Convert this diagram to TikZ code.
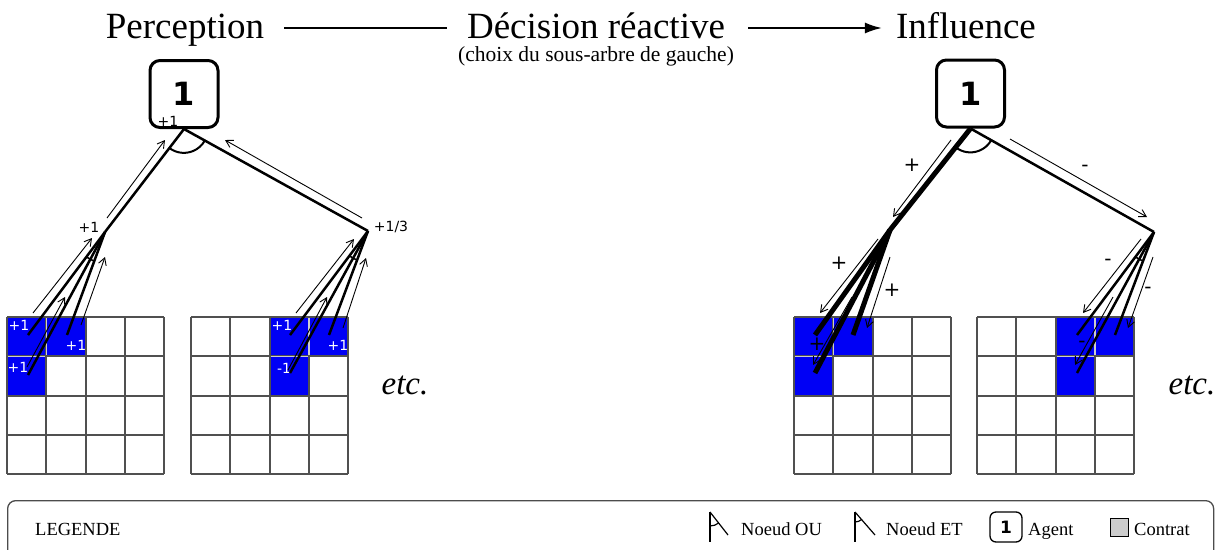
\documentclass[tikz,border=0pt]{standalone}
\usepackage{fontspec}
\setmainfont{Liberation Serif}
\newfontfamily\labelfont{DejaVu Sans}
\usetikzlibrary{arrows.meta,calc}

\definecolor{cellblue}{RGB}{0,0,245}
\definecolor{gridgray}{RGB}{80,80,80}
\definecolor{seamgray}{RGB}{205,205,205}

% 4x4 board whose upper-left corner is at x=#1, y=317;
% blue cells: columns #2 and #2+1 of the first row, column #2 of the second row
\newcommand\cellgrid[2]{%
  \fill[cellblue] ({#1+#2*39.3},317) rectangle ++(78.6,39.3);
  \fill[cellblue] ({#1+#2*39.3},356.3) rectangle ++(39.3,39.3);
  \foreach \i in {0,...,4}{%
    \draw[gridline] ({#1+\i*39.3},317) -- ++(0,157.2);
    \draw[gridline] (#1,{317+\i*39.3}) -- ++(157.2,0);
  }%
  \draw[seam] ({#1+(#2+1)*39.3},318) -- ++(0,37.3);
  \draw[seam] ({#1+#2*39.3+1},356.3) -- ++(37.3,0);
}

\begin{document}
\begin{tikzpicture}[x=1pt,y=-1pt,
  title/.style={font=\fontsize{37}{40}\selectfont, inner sep=0pt, anchor=base},
  subtitle/.style={font=\fontsize{21.5}{23}\selectfont, inner sep=0pt, anchor=base},
  titleline/.style={line width=2pt},
  agent/.style={draw, line width=3pt, rounded corners=10pt, minimum width=68pt,
    minimum height=67pt, inner sep=0pt, font=\labelfont\bfseries\fontsize{32}{32}\selectfont},
  branch/.style={line width=2.5pt},
  chosen/.style={line width=5pt},
  andarc/.style={line width=2pt},
  flow/.style={line width=0.9pt, -{Straight Barb[length=7pt,width=8pt,line width=0.9pt]}},
  gridline/.style={draw=gridgray, line width=1.8pt},
  seam/.style={draw=seamgray, line width=1.6pt},
  val/.style={font=\labelfont\fontsize{14}{14}\selectfont, inner sep=0pt},
  cellval/.style={val, text=white},
  sign/.style={font=\labelfont\fontsize{20}{20}\selectfont, inner sep=0pt},
  etc/.style={font=\itshape\fontsize{33}{36}\selectfont, inner sep=0pt, anchor=base},
  legtext/.style={font=\fontsize{18.5}{20}\selectfont, inner sep=0pt, anchor=base west},
  legsym/.style={line width=1.2pt},
]
\useasboundingbox (0,0) rectangle (1220,549);

% ---------- headings ----------
\node[title] (perc) at (185,38) {Perception};
\node[title] (dec) at (596,38) {Décision réactive};
\node[title] (infl) at (966,38) {Influence};
\node[subtitle] (sub) at (596,61) {(choix du sous-arbre de gauche)};
\draw[titleline] ($(perc.base east)+(20,-10)$) -- ($(dec.base west)+(-20,-10)$);
\draw[titleline, -{Latex[length=17pt,width=11pt]}]
  ($(dec.base east)+(23,-10)$) -- ($(infl.base west)+(-14,-10)$);

% ---------- boards ----------
\cellgrid{7}{0}
\cellgrid{191}{2}
\cellgrid{794}{0}
\cellgrid{977}{2}

\node[cellval] (v11) at (19,325) {+1};
\node[cellval] (v12) at (76,345) {+1};
\node[cellval] (v13) at (18,367) {+1};
\node[cellval] (v21) at (282,325) {+1};
\node[cellval] (v22) at (338,345) {+1};
\node[cellval] (v23) at (284,368) {-1};

% ---------- perception tree ----------
\node[agent] (ag1) at (184,94) {1};
\coordinate (L1) at (105,232);
\coordinate (M1) at (368,231);
\draw[branch] (ag1.south) -- (L1);
\draw[branch] (ag1.south) -- (M1);
\draw[andarc] ($(ag1.south)!24pt!(L1)$) arc[start angle=233, end angle=331, radius=24pt];

\coordinate (pa1) at (107,218); \coordinate (pb1) at (165,140);
\coordinate (pa2) at (362,218); \coordinate (pb2) at (225,140);
\draw[flow] (pa1) -- (pb1);
\draw[flow] (pa2) -- (pb2);

\node[val] (r1) at (168,121) {+1};
\node[val] (l1v) at (89,227) {+1};
\node[val] (m1v) at (391,227) {+1/3};

% left sub-tree
\coordinate (c11) at (28,335); \coordinate (c12) at (67,335); \coordinate (c13) at (28,375);
\draw[branch] (L1) -- (c11);
\draw[branch] (L1) -- (c12);
\draw[branch] (L1) -- (c13);
\draw[line width=1.6pt] ($(L1)!31pt!(c11)$) arc[start angle=233, end angle=250, radius=31pt];
\coordinate (qa1) at (33,313); \coordinate (qb1) at (92,238);
\coordinate (qa2) at (27,367); \coordinate (qb2) at (65,297);
\coordinate (qa3) at (81,325); \coordinate (qb3) at (105,257);
\draw[flow] (qa1) -- (qb1);
\draw[flow] (qa2) -- (qb2);
\draw[flow] (qa3) -- (qb3);

% right sub-tree
\coordinate (c21) at (290,335); \coordinate (c22) at (329,335); \coordinate (c23) at (290,373);
\draw[branch] (M1) -- (c21);
\draw[branch] (M1) -- (c22);
\draw[branch] (M1) -- (c23);
\draw[line width=1.6pt] ($(M1)!31pt!(c21)$) arc[start angle=233, end angle=249, radius=31pt];
\coordinate (sa1) at (296,313); \coordinate (sb1) at (354,239);
\coordinate (sa2) at (288,370); \coordinate (sb2) at (327,297);
\coordinate (sa3) at (343,328); \coordinate (sb3) at (366,258);
\draw[flow] (sa1) -- (sb1);
\draw[flow] (sa2) -- (sb2);
\draw[flow] (sa3) -- (sb3);

\node[etc] (etc1) at (405,394) {etc.};

% ---------- influence tree ----------
\node[agent] (ag2) at (970.5,93.5) {1};
\coordinate (L2) at (890,230);
\coordinate (M2) at (1154,232);
\draw[chosen] (ag2.south) -- (L2);
\draw[branch] (ag2.south) -- (M2);
\draw[andarc] ($(ag2.south)!24pt!(L2)$) arc[start angle=232, end angle=330, radius=24pt];

\coordinate (da1) at (951,140); \coordinate (db1) at (893,217);
\coordinate (da2) at (1010,139); \coordinate (db2) at (1147,217);
\draw[flow] (da1) -- (db1);
\draw[flow] (da2) -- (db2);
\node[sign] (s1) at (912,165) {+};
\node[sign] (s2) at (1085,168) {-};

% chosen sub-tree
\coordinate (c31) at (815,335); \coordinate (c32) at (853,335); \coordinate (c33) at (815,373);
\draw[chosen] (L2) -- (c31);
\draw[chosen] (L2) -- (c32);
\draw[chosen] (L2) -- (c33);
\coordinate (ea1) at (878,239); \coordinate (eb1) at (820,313);
\coordinate (ea2) at (852,297); \coordinate (eb2) at (813,365);
\coordinate (ea3) at (890,257); \coordinate (eb3) at (867,328);
\draw[flow] (ea1) -- (eb1);
\draw[flow] (ea2) -- (eb2);
\draw[flow] (ea3) -- (eb3);
\node[sign] (s3) at (839,263) {+};
\node[sign] (s4) at (892,290) {+};
\node[sign] (s5) at (817,344) {+};

% other sub-tree
\coordinate (c41) at (1077,335); \coordinate (c42) at (1115,335); \coordinate (c43) at (1077,373);
\draw[branch] (M2) -- (c41);
\draw[branch] (M2) -- (c42);
\draw[branch] (M2) -- (c43);
\draw[line width=1.6pt] ($(M2)!31pt!(c41)$) arc[start angle=233, end angle=249, radius=31pt];
\coordinate (fa1) at (1141,239); \coordinate (fb1) at (1083,313);
\coordinate (fa2) at (1113,297); \coordinate (fb2) at (1075,365);
\coordinate (fa3) at (1153,257); \coordinate (fb3) at (1128,328);
\draw[flow] (fa1) -- (fb1);
\draw[flow] (fa2) -- (fb2);
\draw[flow] (fa3) -- (fb3);
\node[sign] (s6) at (1108,262) {-};
\node[sign] (s7) at (1148,290) {-};
\node[sign] (s8) at (1082,344) {-};

\node[etc] (etc2) at (1192,394) {etc.};

% ---------- legend ----------
\node[draw=gray!60!black, line width=1.3pt, rounded corners=8pt, anchor=north west,
  minimum width=1206pt, minimum height=80pt, inner sep=0pt] (legend) at (7,500) {};
\node[legtext] (legt) at (35,535) {LEGENDE};

\coordinate (ou) at (710,512);
\draw[legsym] (ou) -- ++(0,30);
\draw[legsym] (ou) -- ++(18,23);
\draw[legsym] ($(ou)+(0,14)$) arc[start angle=270, end angle=308, radius=14pt];
\node[legtext] (out) at (741,535) {Noeud OU};

\coordinate (et) at (855,512);
\draw[legsym] (et) -- ++(0,30);
\draw[legsym] (et) -- ++(20,23);
\draw[legsym] ($(et)+(0,10)$) arc[start angle=270, end angle=311, radius=10pt];
\node[legtext] (ett) at (886,535) {Noeud ET};

\node[draw, line width=1.3pt, rounded corners=6pt, minimum width=32pt, minimum height=30pt,
  inner sep=0pt, font=\labelfont\bfseries\fontsize{17}{17}\selectfont] (agl) at (1006,527) {1};
\node[legtext] (agt) at (1028,535) {Agent};

\node[draw, fill=gray!40, line width=1pt, minimum size=18pt, inner sep=0pt] (ctr) at (1119,527) {};
\node[legtext] (ctt) at (1134,535) {Contrat};
\end{tikzpicture}
\end{document}
